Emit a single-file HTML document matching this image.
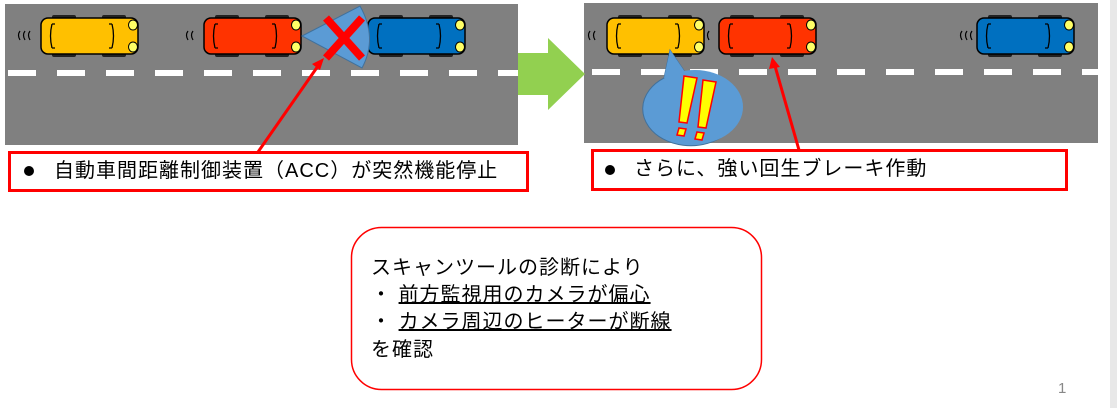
<!DOCTYPE html>
<html><head><meta charset="utf-8"><style>
body{margin:0;width:1117px;height:408px;background:#fff;overflow:hidden;position:relative;font-family:"Liberation Sans","Noto Sans CJK JP",sans-serif}
svg{position:absolute;left:0;top:0}
.t{position:absolute;font-size:20px;letter-spacing:1px;color:#000;white-space:nowrap;line-height:1}
</style></head><body>
<svg width="1117" height="408" viewBox="0 0 1117 408">
<defs>
<g id="car">
<rect x="12" y="0" width="24" height="5" rx="2" fill="#222"/>
<rect x="62" y="0" width="24" height="5" rx="2" fill="#222"/>
<rect x="12" y="37" width="24" height="5" rx="2" fill="#222"/>
<rect x="62" y="37" width="24" height="5" rx="2" fill="#222"/>
<rect x="1" y="3" width="97" height="36" rx="7" fill="inherit" stroke="#000" stroke-width="1.5"/>
<path d="M12 9 Q9 21 12 33 M72 9 Q75 21 72 33 M12 9 h3 M12 33 h3 M72 9 h-3 M72 33 h-3" fill="none" stroke="#000" stroke-width="1.3"/>
<ellipse cx="93" cy="10" rx="4.5" ry="5" fill="#ffff66" stroke="#000" stroke-width="1"/>
<ellipse cx="93" cy="32" rx="4.5" ry="5" fill="#ffff66" stroke="#000" stroke-width="1"/>
</g>
</defs>
<rect x="1110" y="0" width="7" height="408" fill="#e8e8e8"/>
<rect x="5" y="4" width="513" height="141" fill="#808080"/>
<rect x="584" y="3" width="514" height="140" fill="#808080"/>
<line x1="8" y1="73" x2="518" y2="73" stroke="#fff" stroke-width="6" stroke-dasharray="28 21"/>
<line x1="582" y1="72" x2="1098" y2="72" stroke="#fff" stroke-width="6" stroke-dasharray="28 21" stroke-dashoffset="-10"/>
<g fill="#ffc000"><use href="#car" x="40" y="15"/></g>
<g fill="#ff3300"><use href="#car" x="203" y="15"/></g>
<g fill="#0070c0"><use href="#car" x="367" y="15"/></g>
<g fill="none" stroke="#000" stroke-width="1.2"><path d="M20 31 q-3 4 0 9 M25 31 q-3 4 0 9 M30 31 q-3 4 0 9 M188 31 q-3 4 0 9 M193 31 q-3 4 0 9"/></g>
<path d="M302 36 L360 6 Q378 38 362 68 Z" fill="#5b9bd5" stroke="#41719c" stroke-width="1"/>
<path d="M326 18 L362 58 M362 18 L326 58" stroke="#ff0000" stroke-width="8"/>
<line x1="258" y1="152" x2="318" y2="66" stroke="#ff0000" stroke-width="3"/>
<path d="M324 58 L312 64 L320 70 Z" fill="#ff0000"/>
<path d="M518 53 L548 53 L548 38 L585 74 L548 110 L548 95 L518 95 Z" fill="#92d050"/>
<g fill="#ffc000"><use href="#car" x="606" y="15"/></g>
<g fill="#ff3300"><use href="#car" x="718" y="15"/></g>
<g fill="#0070c0"><use href="#car" x="976" y="15"/></g>
<g fill="none" stroke="#000" stroke-width="1.2"><path d="M590 31 q-3 4 0 9 M595 31 q-3 4 0 9 M709 31 q-3 4 0 9 M962 31 q-3 4 0 9 M967 31 q-3 4 0 9 M972 31 q-3 4 0 9"/></g>
<path d="M670 50 L685 72 A48 37 0 1 1 664 78 Z" fill="#5b9bd5" stroke="#41719c" stroke-width="1"/>
<ellipse cx="695" cy="107" rx="48" ry="37" fill="#5b9bd5"/>
<path d="M670 50 L685 72 L664 78 Z" fill="#5b9bd5"/>
<g fill="#ffff00" stroke="#ff0000" stroke-width="1.5">
<path d="M684 76 L697 78 L687 123 L679 122 Z"/><path d="M679 128 L686 129 L684 136 L677 135 Z"/>
<path d="M703 80 L716 82 L706 128 L698 127 Z"/><path d="M697 132 L704 133 L702 140 L695 139 Z"/>
</g>
<line x1="799" y1="150" x2="775" y2="66" stroke="#ff0000" stroke-width="3"/>
<path d="M772 57 L769 69 L780 67 Z" fill="#ff0000"/>
<rect x="9.5" y="152.5" width="518" height="38" fill="#fff" stroke="#ff0000" stroke-width="3"/>
<rect x="592.5" y="150.5" width="474" height="39" fill="#fff" stroke="#ff0000" stroke-width="3"/>
<circle cx="29" cy="171" r="5" fill="#000"/>
<circle cx="610" cy="170" r="5" fill="#000"/>
<rect x="351.5" y="227.5" width="410" height="162" rx="30" fill="#fff" stroke="#ff0000" stroke-width="1.5"/>
</svg>
<div class="t" style="left:54px;top:161px">自動車間距離制御装置（ACC）が突然機能停止</div>
<div class="t" style="left:634px;top:159px">さらに、強い回生ブレーキ作動</div>
<div class="t" style="left:371px;top:258px">スキャンツールの診断により</div>
<div class="t" style="left:371px;top:285px">・ <span style="text-decoration:underline">前方監視用のカメラが偏心</span></div>
<div class="t" style="left:371px;top:312px">・ <span style="text-decoration:underline">カメラ周辺のヒーターが断線</span></div>
<div class="t" style="left:371px;top:340px">を確認</div>
<div class="t" style="left:1058px;top:381px;font-size:15px;letter-spacing:0;color:#888">1</div>
</body></html>
